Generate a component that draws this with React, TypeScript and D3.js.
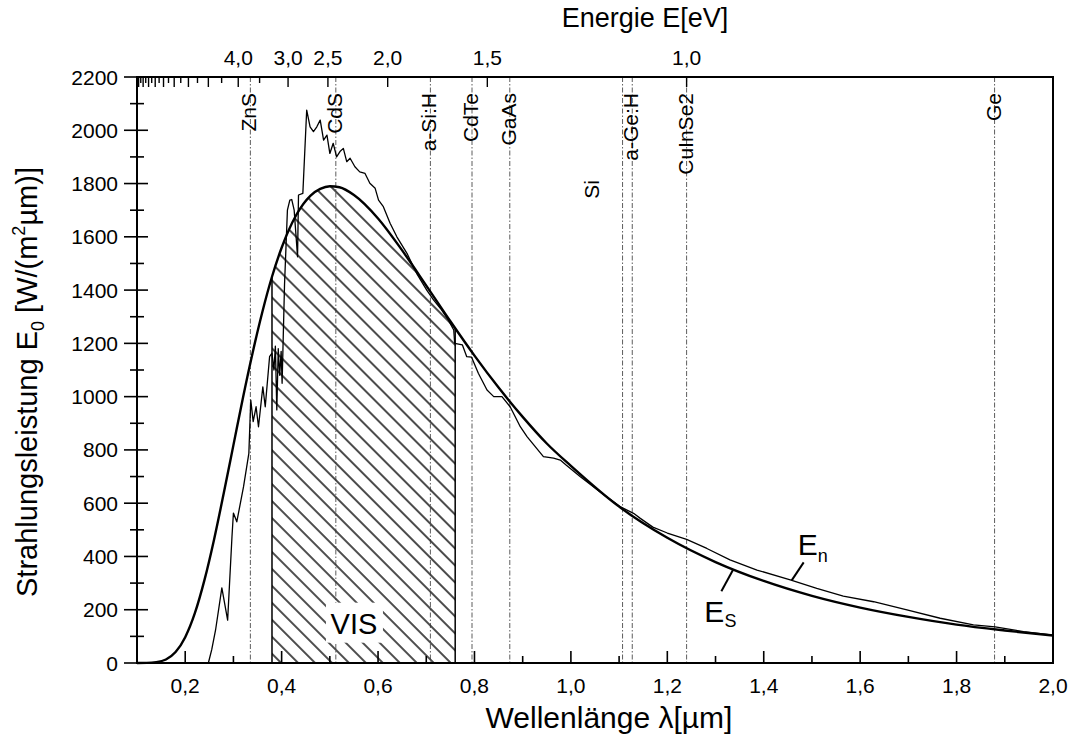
import * as d3 from "d3";

// Sonnenspektrum: Schwarzer Strahler E_s (glatt) und gemessenes Spektrum E_n
const esLambda = [0.1, 0.12, 0.14, 0.16, 0.18, 0.2, 0.22, 0.24, 0.26, 0.28, 0.3, 0.32, 0.34, 0.36, 0.38, 0.4, 0.43, 0.46, 0.48, 0.5, 0.52, 0.55, 0.6, 0.65, 0.7, 0.75, 0.8, 0.85, 0.9, 0.95, 1.0, 1.1, 1.2, 1.3, 1.4, 1.5, 1.6, 1.7, 1.8, 1.9, 2.0];
const esValue = [0, 0.3, 3, 13, 41, 97, 187, 312, 465, 638, 818, 998, 1166, 1318, 1450, 1559, 1681, 1755, 1780, 1790, 1786, 1757, 1669, 1549, 1417, 1283, 1154, 1034, 924, 824, 740, 587, 470, 379, 308, 252, 208, 173, 144, 122, 103];

const enLambda = [0.1, 0.248, 0.255, 0.263, 0.276, 0.288, 0.297, 0.3, 0.307, 0.321, 0.332, 0.336, 0.341, 0.347, 0.352, 0.361, 0.366, 0.375, 0.38, 0.384, 0.387, 0.39, 0.393, 0.396, 0.399, 0.401, 0.406, 0.412, 0.417, 0.421, 0.426, 0.433, 0.435, 0.444, 0.452, 0.459, 0.466, 0.473, 0.48, 0.487, 0.494, 0.5, 0.507, 0.514, 0.521, 0.528, 0.535, 0.542, 0.552, 0.562, 0.573, 0.583, 0.594, 0.601, 0.611, 0.625, 0.639, 0.66, 0.68, 0.701, 0.715, 0.73, 0.745, 0.757, 0.759, 0.775, 0.784, 0.794, 0.808, 0.826, 0.84, 0.857, 0.874, 0.895, 0.909, 0.926, 0.943, 0.964, 0.978, 0.99, 1.019, 1.06, 1.102, 1.13, 1.144, 1.17, 1.2, 1.24, 1.282, 1.33, 1.386, 1.455, 1.51, 1.565, 1.628, 1.697, 1.766, 1.835, 1.88, 1.939, 2.0];
const enValue = [0, 0, 50, 124, 282, 161, 474, 563, 530, 662, 787, 987, 906, 962, 887, 1037, 962, 1150, 1163, 1100, 1190, 950, 1180, 1080, 1170, 1050, 1420, 1700, 1738, 1740, 1700, 1525, 1757, 1763, 2076, 2013, 1995, 2013, 2038, 1963, 1982, 1913, 1951, 1900, 1920, 1932, 1882, 1895, 1863, 1844, 1838, 1801, 1782, 1738, 1713, 1651, 1600, 1538, 1463, 1400, 1363, 1330, 1290, 1250, 1200, 1194, 1150, 1148, 1088, 1025, 1000, 1000, 962, 887, 850, 812, 775, 769, 762, 743, 700, 643, 587, 562, 543, 510, 488, 464, 430, 387, 349, 312, 280, 251, 230, 199, 168, 143, 136, 118, 105];

// Bandlücken der Halbleiter in eV
const materials = ["ZnS", "CdS", "a-Si:H", "CdTe", "GaAs", "Si", "a-Ge:H", "CuInSe2", "Ge"];
const bandGaps = [3.7, 2.42, 1.75, 1.56, 1.42, 1.12, 1.1, 1.0, 0.66];

const xMajor = [0.2, 0.4, 0.6, 0.8, 1.0, 1.2, 1.4, 1.6, 1.8, 2.0];
const xMinor = [0.1, 0.3, 0.5, 0.7, 0.9, 1.1, 1.3, 1.5, 1.7, 1.9];
const yMajor = [0, 200, 400, 600, 800, 1000, 1200, 1400, 1600, 1800, 2000, 2200];
const yMinor = [100, 300, 500, 700, 900, 1100, 1300, 1500, 1700, 1900, 2100];
const eTicks = [1.0, 1.5, 2.0, 2.5, 3.0, 3.5, 4.0, 4.5, 5.0, 5.5, 6.0, 6.5, 7.0, 7.5, 8.0, 8.5, 9.0, 9.5, 10.0, 10.5, 11.0, 11.5, 12.0];
const eLabels = [1.0, 1.5, 2.0, 2.5, 3.0, 4.0];
const visRange = [0.38, 0.76];
const HC = 1.24; // µm·eV

const FONT = "'Liberation Sans', Arial, Helvetica, sans-serif";
const comma = (v: number) => d3.format(".1f")(v).replace(".", ",");

export default function App() {
  const width = 1074;
  const height = 738;
  const margin = { top: 77, right: 21, bottom: 75, left: 137 };
  const x = d3.scaleLinear().domain([0.1, 2.0]).range([margin.left, width - margin.right]);
  const y = d3.scaleLinear().domain([0, 2200]).range([height - margin.bottom, margin.top]);
  const left = margin.left, right = width - margin.right;
  const top = margin.top, bottom = height - margin.bottom;
  const fromEv = (e: number) => HC / e;

  const esPts = esLambda.map((l, i) => [l, esValue[i]] as [number, number]);
  const enPts = enLambda.map((l, i) => [l, enValue[i]] as [number, number]);
  const esLine = d3.line<[number, number]>().x((d) => x(d[0])).y((d) => y(d[1])).curve(d3.curveMonotoneX);
  const enLine = d3.line<[number, number]>().x((d) => x(d[0])).y((d) => y(d[1]));
  const esArea = d3.area<[number, number]>().x((d) => x(d[0])).y0(y(0)).y1((d) => y(d[1])).curve(d3.curveMonotoneX);

  const visX = x(0.55);
  const visY = y(110);

  return (
    <svg width={width} height={height} style={{ position: "absolute", left: 0, top: 0, background: "#fff" }} fontFamily={FONT}>
      <defs>
        <pattern id="hatch" patternUnits="userSpaceOnUse" width={12} height={12} patternTransform="rotate(-45)">
          <line x1={6} y1={-1} x2={6} y2={13} stroke="#000" strokeWidth={1.4} />
        </pattern>
        <clipPath id="visBand">
          <rect x={x(visRange[0])} y={top} width={x(visRange[1]) - x(visRange[0])} height={bottom - top} />
        </clipPath>
        <clipPath id="underEs">
          <path d={esArea(esPts) || ""} />
        </clipPath>
      </defs>

      {/* VIS Bereich */}
      <path d={esArea(esPts) || ""} fill="url(#hatch)" clipPath="url(#visBand)" />
      <g clipPath="url(#underEs)">
        {visRange.map((v) => (
          <line key={v} x1={x(v)} x2={x(v)} y1={bottom} y2={top} stroke="#000" strokeWidth={1.5} />
        ))}
      </g>

      {/* Bandlücken */}
      {bandGaps.map((e, i) => {
        const lx = x(fromEv(e));
        const isSi = materials[i] === "Si";
        return (
          <g key={materials[i]}>
            <line x1={lx} x2={lx} y1={top} y2={bottom} stroke="#333" strokeWidth={0.8} strokeDasharray="5 2 1.5 2" />
            <text
              transform={`translate(${isSi ? lx - 24 : lx + 6},${isSi ? 180 : 93}) rotate(-90)`}
              textAnchor="end"
              fontSize={21}
            >
              {materials[i]}
            </text>
          </g>
        );
      })}

      <rect x={visX - 28} y={visY - 31} width={57} height={40} fill="#fff" />
      <text x={visX} y={visY} textAnchor="middle" fontSize={29}>VIS</text>

      <path d={enLine(enPts) || ""} fill="none" stroke="#000" strokeWidth={1.3} strokeLinejoin="round" />
      <path d={esLine(esPts) || ""} fill="none" stroke="#000" strokeWidth={2.4} />

      {/* Beschriftung der Kurven */}
      <line x1={x(1.458)} y1={y(310)} x2={x(1.458) + 12} y2={y(310) - 18} stroke="#000" strokeWidth={2} />
      <text x={x(1.458) + 6} y={y(310) - 25} fontSize={30}>
        E<tspan fontSize={18} dy={7}>n</tspan>
      </text>
      <line x1={x(1.337)} y1={y(352)} x2={x(1.337) - 12} y2={y(352) + 22} stroke="#000" strokeWidth={2} />
      <text x={x(1.337) - 29} y={y(352) + 53} fontSize={30}>
        E<tspan fontSize={18} dy={5}>S</tspan>
      </text>

      {/* Rahmen */}
      <rect x={left} y={top} width={right - left} height={bottom - top} fill="none" stroke="#000" strokeWidth={2} />

      {/* untere Achse */}
      {xMajor.map((v) => (
        <g key={"xM" + v}>
          <line x1={x(v)} x2={x(v)} y1={bottom} y2={bottom - 12} stroke="#000" strokeWidth={1.6} />
          <text x={x(v)} y={bottom + 30} textAnchor="middle" fontSize={21}>{comma(v)}</text>
        </g>
      ))}
      {xMinor.map((v) => (
        <line key={"xm" + v} x1={x(v)} x2={x(v)} y1={bottom} y2={bottom - 7} stroke="#000" strokeWidth={1.6} />
      ))}

      {/* linke Achse */}
      {yMajor.map((v) => (
        <g key={"yM" + v}>
          <line x1={left - 13} x2={left + 11} y1={y(v)} y2={y(v)} stroke="#000" strokeWidth={1.6} />
          <text x={left - 19} y={y(v)} dy="0.36em" textAnchor="end" fontSize={21}>{v}</text>
        </g>
      ))}
      {yMinor.map((v) => (
        <line key={"ym" + v} x1={left - 7} x2={left + 7} y1={y(v)} y2={y(v)} stroke="#000" strokeWidth={1.6} />
      ))}

      {/* obere Achse: Energie */}
      {eTicks.map((e) => {
        const long = eLabels.includes(e) || Number.isInteger(e);
        return (
          <line key={"e" + e} x1={x(fromEv(e))} x2={x(fromEv(e))} y1={top} y2={top + (long ? 10 : 6)} stroke="#000" strokeWidth={1.4} />
        );
      })}
      {eLabels.map((e) => (
        <text key={"el" + e} x={x(fromEv(e))} y={top - 12} textAnchor="middle" fontSize={21}>{comma(e)}</text>
      ))}

      {/* Achsentitel */}
      <text x={645} y={27} textAnchor="middle" fontSize={27}>Energie E[eV]</text>
      <text x={609} y={728} textAnchor="middle" fontSize={30}>Wellenlänge λ[µm]</text>
      <text transform={`translate(37,${(top + bottom) / 2 + 12}) rotate(-90)`} textAnchor="middle" fontSize={29}>
        Strahlungsleistung E<tspan fontSize={18} dy={7}>0</tspan>
        <tspan dy={-7}> [W/(m</tspan>
        <tspan fontSize={18} dy={-12}>2</tspan>
        <tspan dy={12}>µm)]</tspan>
      </text>
    </svg>
  );
}
